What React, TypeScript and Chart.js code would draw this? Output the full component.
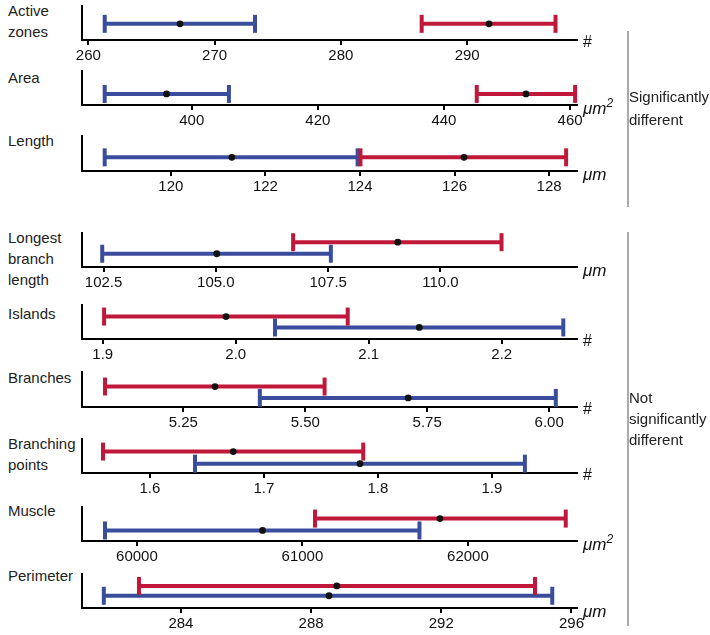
import React, { useEffect, useRef } from 'react';
import { Chart, registerables } from 'chart.js';

Chart.register(...registerables);

// ---------- data ----------
const panelNames: string[][] = [
  ['Active', 'zones'],
  ['Area'],
  ['Length'],
  ['Longest', 'branch', 'length'],
  ['Islands'],
  ['Branches'],
  ['Branching', 'points'],
  ['Muscle'],
  ['Perimeter'],
];
const units = ['#', 'μm²', 'μm', 'μm', '#', '#', '#', 'μm²', 'μm'];

const blueLow = [261.3, 386.2, 118.6, 102.47, 2.0295, 5.407, 1.6395, 59807, 281.63];
const blueMean = [267.26, 396.0, 121.29, 105.02, 2.138, 5.711, 1.7842, 60759, 288.55];
const blueHigh = [273.2, 405.9, 123.95, 107.56, 2.2463, 6.0136, 1.9289, 61707, 295.41];

const redLow = [286.4, 445.2, 124.01, 106.72, 1.901, 5.0897, 1.5588, 61076, 282.71];
const redMean = [291.73, 453.0, 126.2, 109.05, 1.9927, 5.315, 1.6731, 61831, 288.79];
const redHigh = [297.0, 460.8, 128.36, 111.36, 2.0842, 5.5397, 1.7871, 62591, 294.88];

const axisMin = [259.5, 382.6, 118.12, 102.02, 1.8844, 5.0425, 1.5404, 59668, 280.96];
const axisMax = [298.7, 461.1, 128.59, 113.04, 2.2566, 6.057, 1.9746, 62659, 296.17];

const tickValues: number[][] = [
  [260, 270, 280, 290],
  [400, 420, 440, 460],
  [120, 122, 124, 126, 128],
  [102.5, 105, 107.5, 110],
  [1.9, 2.0, 2.1, 2.2],
  [5.25, 5.5, 5.75, 6.0],
  [1.6, 1.7, 1.8, 1.9],
  [60000, 61000, 62000],
  [284, 288, 292, 296],
];
const tickDecimals = [0, 0, 0, 1, 1, 2, 1, 0, 0];

const groupTexts = [['Significantly', 'different'], ['Not', 'significantly', 'different']];

// ---------- layout / style ----------
const AXIS_TOP = [3, 68, 133, 230, 302, 369, 436, 504, 571];
const AXIS_LINE = [43, 108, 174, 270, 342, 410, 476, 544, 611];
const RED_ROW = [0.475, 0.325, 0.39, 0.73, 0.66, 0.585, 0.63, 0.66, 0.65];
const BLUE_ROW = [0.475, 0.325, 0.39, 0.39, 0.34, 0.26, 0.275, 0.31, 0.36];
const LABEL_CAP_TOP = [5, 72, 135, 232, 308, 372, 438, 505, 570];
const PAD_TOP = 10;
const PAD_BOTTOM = 4;
const TICK_LEN = 5;
const TICK_PAD = 3;
const TICK_SIZE = 15;
const TICK_LH = 1.1;
const X_AXIS_H = TICK_LEN + TICK_PAD + TICK_SIZE * TICK_LH;

const BLUE = '#3a4d9d';
const RED = '#c0183a';
const TICK_FONT = "'Liberation Sans', Arial, sans-serif";
const TEXT_FONT = "'Liberation Sans', Arial, sans-serif";

function Panel({ i }: { i: number }) {
  const ref = useRef<HTMLCanvasElement>(null);
  const panelH = AXIS_LINE[i] - AXIS_TOP[i];
  const height = Math.round(PAD_TOP + panelH + X_AXIS_H + PAD_BOTTOM);
  const padBottom = height - PAD_TOP - panelH - X_AXIS_H;

  useEffect(() => {
    const bar = (lo: number, hi: number, y: number, color: string, order: number) => ({
      type: 'scatter' as const,
      data: [
        { x: lo, y },
        { x: hi, y },
      ],
      showLine: true,
      borderColor: color,
      borderWidth: 4,
      pointStyle: 'line' as const,
      rotation: 90,
      pointRadius: 9,
      pointBorderWidth: 4,
      pointBorderColor: color,
      pointBackgroundColor: color,
      order,
      clip: false as any,
    });
    const chart = new Chart(ref.current!, {
      type: 'scatter',
      data: {
        datasets: [
          {
            data: [
              { x: blueMean[i], y: BLUE_ROW[i] },
              { x: redMean[i], y: RED_ROW[i] },
            ],
            pointRadius: 3.4,
            pointBackgroundColor: '#111',
            pointBorderColor: '#111',
            pointBorderWidth: 0,
            showLine: false,
            order: 0,
            clip: false as any,
          },
          bar(redLow[i], redHigh[i], RED_ROW[i], RED, 1),
          bar(blueLow[i], blueHigh[i], BLUE_ROW[i], BLUE, 2),
        ] as any,
      },
      options: {
        animation: false,
        responsive: false,
        events: [],
        layout: { padding: { left: 82, right: 133, top: PAD_TOP, bottom: padBottom } },
        plugins: { legend: { display: false }, tooltip: { enabled: false } },
        scales: {
          x: {
            type: 'linear',
            position: 'bottom',
            min: axisMin[i],
            max: axisMax[i],
            afterBuildTicks: (axis: any) => {
              axis.ticks = tickValues[i].map((v) => ({ value: v }));
            },
            grid: {
              display: true,
              drawOnChartArea: false,
              drawTicks: true,
              tickLength: TICK_LEN,
              color: '#000',
              lineWidth: 2,
            },
            border: { display: true, color: '#000', width: 2 },
            ticks: {
              autoSkip: false,
              maxRotation: 0,
              padding: TICK_PAD,
              color: '#111',
              font: { family: TICK_FONT, size: TICK_SIZE, lineHeight: TICK_LH },
              callback: (v: any) => Number(v).toFixed(tickDecimals[i]),
            },
          },
          y: {
            type: 'linear',
            min: 0,
            max: 1,
            grid: { display: false, drawTicks: false },
            border: { display: true, color: '#000', width: 2 },
            ticks: { display: false },
          },
        },
      } as any,
    });
    return () => chart.destroy();
  }, [i]);

  return (
    <canvas
      ref={ref}
      width={710}
      height={height}
      style={{ position: 'absolute', left: 0, top: AXIS_TOP[i] - PAD_TOP, width: 710, height }}
    />
  );
}

function Unit({ i }: { i: number }) {
  const u = units[i];
  const isHash = u === '#';
  const base = isHash ? u : u.replace('²', '');
  const sup = u.endsWith('²');
  return (
    <div
      style={{
        position: 'absolute',
        left: 583,
        top: AXIS_LINE[i] - (isHash ? 11 : 9),
        fontFamily: TEXT_FONT,
        fontStyle: isHash ? 'normal' : 'italic',
        fontSize: isHash ? 16 : 17,
        lineHeight: '20px',
        color: '#111',
        whiteSpace: 'nowrap',
      }}
    >
      {base}
      {sup ? <sup style={{ fontSize: 12, verticalAlign: 'top', position: 'relative', top: -6 }}>2</sup> : null}
    </div>
  );
}

export default function App() {
  return (
    <div
      style={{
        position: 'fixed',
        left: 0,
        top: 0,
        width: 710,
        height: 635,
        background: '#fff',
        overflow: 'hidden',
      }}
    >
      {panelNames.map((lines, i) => (
        <div
          key={'l' + i}
          style={{
            position: 'absolute',
            left: 8,
            top: LABEL_CAP_TOP[i] - 5,
            fontFamily: TEXT_FONT,
            fontSize: 15,
            lineHeight: '21px',
            color: '#222',
          }}
        >
          {lines.map((t, k) => (
            <div key={k}>{t}</div>
          ))}
        </div>
      ))}
      {panelNames.map((_, i) => (
        <Panel key={'p' + i} i={i} />
      ))}
      {panelNames.map((_, i) => (
        <Unit key={'u' + i} i={i} />
      ))}
      <div style={{ position: 'absolute', left: 627, top: 31, width: 1.5, height: 176, background: '#aaa' }} />
      <div style={{ position: 'absolute', left: 627, top: 232, width: 1.5, height: 394, background: '#aaa' }} />
      <div
        style={{
          position: 'absolute',
          left: 629,
          top: 85,
          fontFamily: TEXT_FONT,
          fontSize: 15,
          lineHeight: '23px',
          color: '#222',
        }}
      >
        {groupTexts[0].map((t, k) => (
          <div key={k}>{t}</div>
        ))}
      </div>
      <div
        style={{
          position: 'absolute',
          left: 629,
          top: 387,
          fontFamily: TEXT_FONT,
          fontSize: 15,
          lineHeight: '21px',
          color: '#222',
        }}
      >
        {groupTexts[1].map((t, k) => (
          <div key={k}>{t}</div>
        ))}
      </div>
    </div>
  );
}
